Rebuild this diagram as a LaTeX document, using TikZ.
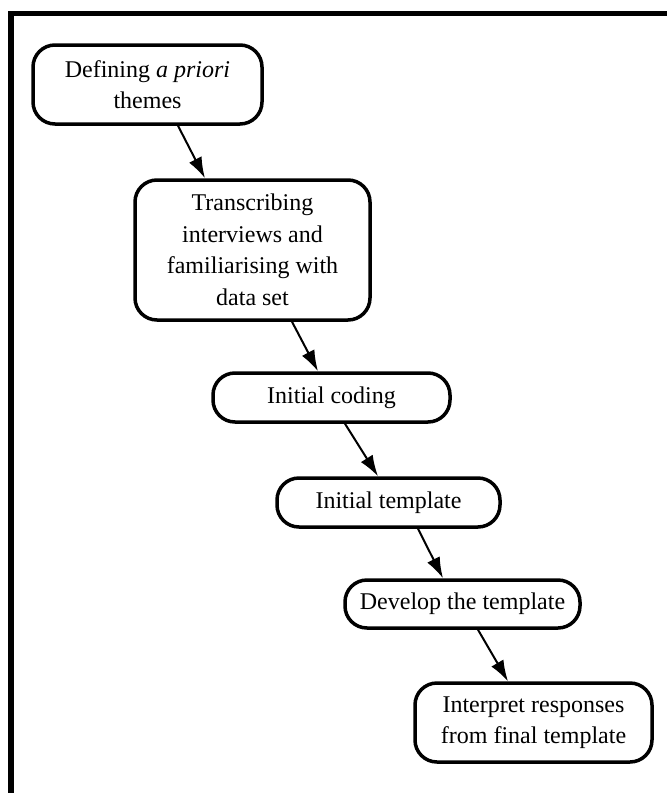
\documentclass[tikz,border=0pt]{standalone}
\usepackage{fontspec}
\setmainfont{Liberation Serif}
\usetikzlibrary{arrows.meta}
\begin{document}
\begin{tikzpicture}[x=1pt,y=-1pt,
  stage/.style={draw=black, line width=3.5pt, rounded corners=22pt, fill=white,
    align=center, inner sep=0pt, font=\fontsize{24}{31.5}\selectfont},
  arr/.style={line width=2pt, -{Latex[length=21pt,width=14pt]}},
  frameline/.style={line width=5.5pt}]
\useasboundingbox (0,0) rectangle (667,793);
\coordinate (fa) at (11,793);
\coordinate (fb) at (11,13.5);
\coordinate (fc) at (667,13.5);
\draw[frameline] (fa) -- (fb) -- (fc);
\node[stage, minimum width=229pt, minimum height=79pt] (n1) at (147.5,84.5) {Defining \textit{a priori}\\themes};
\node[stage, minimum width=235pt, minimum height=140pt] (n2) at (252.5,250) {Transcribing\\interviews and\\familiarising with\\data set};
\node[stage, minimum width=237pt, minimum height=49pt] (n3) at (331.5,397.5) {Initial coding};
\node[stage, minimum width=223pt, minimum height=49pt] (n4) at (388.5,502.5) {Initial template};
\node[stage, minimum width=235pt, minimum height=48pt] (n5) at (462.5,604) {Develop the template};
\node[stage, minimum width=237pt, minimum height=79pt] (n6) at (533.5,722.5) {Interpret responses\\from final template};
\draw[arr] (n1.south -| 178,0) -- (n2.north -| 205,0);
\draw[arr] (n2.south -| 292,0) -- (n3.north -| 318,0);
\draw[arr] (n3.south -| 345,0) -- (n4.north -| 378,0);
\draw[arr] (n4.south -| 418,0) -- (n5.north -| 443,0);
\draw[arr] (n5.south -| 478,0) -- (n6.north -| 508,0);
\end{tikzpicture}
\end{document}
